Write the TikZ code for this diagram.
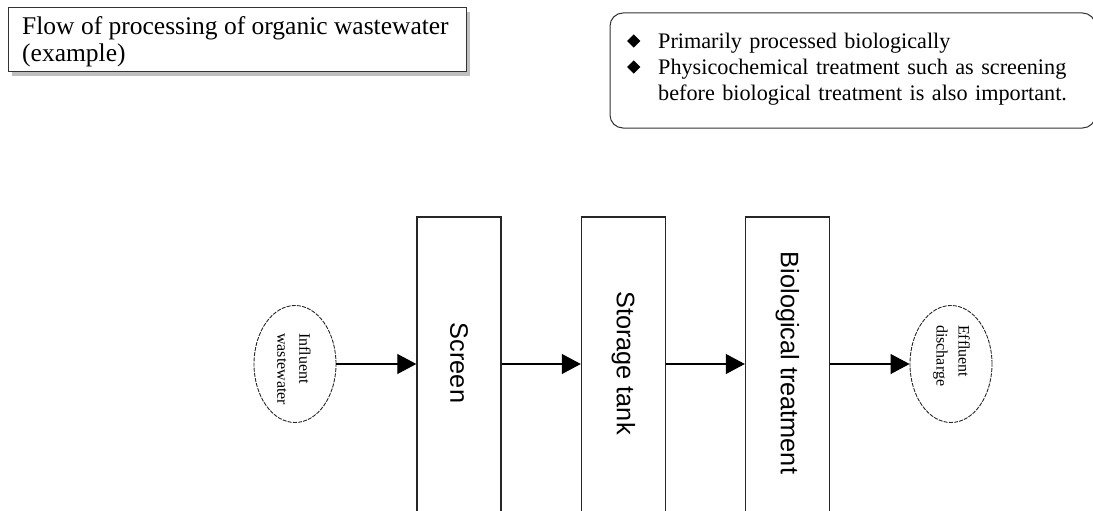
\documentclass[tikz,border=0pt]{standalone}
\usepackage{fontspec}
\setmainfont{Liberation Serif}
\newfontfamily\labelfont{Liberation Sans}
\usetikzlibrary{arrows.meta,shapes.geometric,shadows}

\newcommand{\diam}{\raisebox{0.5pt}{\rotatebox{45}{\rule{9.3pt}{9.3pt}}}}

\tikzset{
  titlebox/.style={draw=black!80, line width=1pt, fill=white, rectangle,
    minimum width=458pt, minimum height=64pt, inner sep=0pt,
    drop shadow={shadow xshift=4pt, shadow yshift=-4pt, fill=gray!50, opacity=1}},
  titletext/.style={inner sep=0pt, anchor=north west, align=left,
    font=\fontsize{25.5}{27}\selectfont},
  notebox/.style={draw=black!80, line width=1pt, rounded corners=13pt,
    minimum width=485.5pt, minimum height=115pt, inner sep=0pt},
  notetext/.style={inner sep=0pt, anchor=north west, text width=461pt,
    font=\fontsize{22.2}{26}\selectfont},
  stage/.style={draw=black!85, line width=1.4pt, rectangle, inner sep=0pt,
    minimum width=84pt, minimum height=296pt},
  stagetext/.style={rotate=-90, inner sep=0pt,
    font=\labelfont\fontsize{25.3}{28}\selectfont},
  terminal/.style={draw=black!85, line width=0.9pt, ellipse, inner sep=0pt,
    dash pattern=on 4pt off 1.2pt, minimum width=82pt, minimum height=117pt},
  termtext/.style={rotate=-90, inner sep=0pt, anchor=west, align=left,
    font=\fontsize{16}{22}\selectfont},
  flow/.style={draw=black, line width=1.1pt,
    -{Triangle[length=19pt,width=20pt]}}
}

\begin{document}
\begin{tikzpicture}[x=1pt,y=-1pt]
\useasboundingbox (0,0) rectangle (1093,511);
\clip (0,0) rectangle (1093,511);

% heading
\node[titlebox] (title) at (237,40) {};
\node[titletext] (titlelbl) at (22,16)
  {Flow of processing of organic wastewater\\(example)};

% notes
\node[notebox] (notes) at (852.75,70.5) {};
\node[notetext] (notelbl) at (627,32.5) {%
  \hangindent=31pt\hangafter=1\noindent\makebox[31pt][l]{\diam}Primarily processed biologically\par
  \hangindent=31pt\hangafter=1\parfillskip=0pt\noindent\makebox[31pt][l]{\diam}Physicochemical treatment such as screening\linebreak
  before biological treatment is also important.\par};

% process chain
\node[terminal] (inf) at (295,364) {};
\node[termtext] (inflbl) at (294,333) {Influent\\wastewater};

\node[stage] (screen) at (459,365) {};
\node[stagetext] (screenlbl) at (459,363) {Screen};

\node[stage] (tank) at (623.5,365) {};
\node[stagetext] (tanklbl) at (623.5,363) {Storage tank};

\node[stage] (bio) at (787.5,365) {};
\node[stagetext] (biolbl) at (787.5,363) {Biological treatment};

\node[terminal] (eff) at (951,364) {};
\node[termtext] (efflbl) at (951.5,325) {Effluent\\discharge};

\draw[flow] (inf.east) -- (inf.east -| screen.west);
\draw[flow] (inf.east -| screen.east) -- (inf.east -| tank.west);
\draw[flow] (inf.east -| tank.east) -- (inf.east -| bio.west);
\draw[flow] (inf.east -| bio.east) -- (eff.west);
\end{tikzpicture}
\end{document}
